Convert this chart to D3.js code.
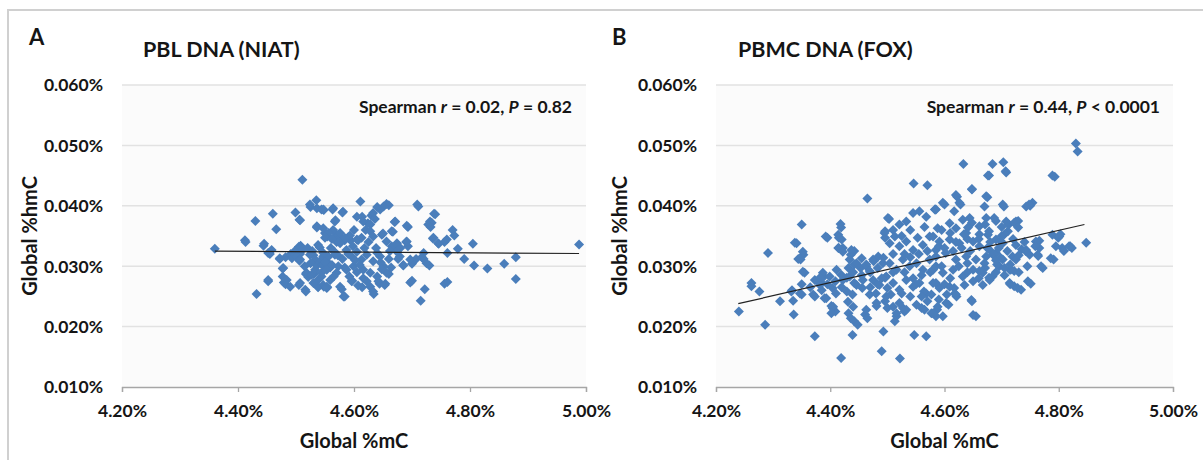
<!DOCTYPE html>
<html>
<head>
<meta charset="utf-8">
<script src="https://cdn.jsdelivr.net/npm/d3@7"></script>
<style>
  body { margin: 0; background: #fff; }
  svg { display: block; }
  text { font-family: Lato, "Open Sans", sans-serif; font-weight: 700; fill: #151515; }
</style>
</head>
<body>
<svg id="fig" width="1203" height="460"></svg>
<script>
// Axis ticks shared by both panels (values in percent)
const xTickValues = [4.2, 4.4, 4.6, 4.8, 5.0];
const xTickLabels = ["4.20%", "4.40%", "4.60%", "4.80%", "5.00%"];
const yTickValues = [0.01, 0.02, 0.03, 0.04, 0.05, 0.06];
const yTickLabels = ["0.010%", "0.020%", "0.030%", "0.040%", "0.050%", "0.060%"];

// Panel A: PBL DNA (NIAT) — [global %mC, global %hmC]
const niatPoints = [
  [4.360,0.0329],[4.511,0.0443],[4.988,0.0336],[4.432,0.0254],[4.715,0.0243],[4.879,0.0279],[4.879,0.0315],
  [4.859,0.0304],[4.830,0.0296],[4.807,0.0301],[4.805,0.0337],[4.790,0.0312],[4.779,0.0329],[4.773,0.0351],
  [4.770,0.0360],[4.761,0.0322],[4.756,0.0271],[4.761,0.0274],[4.756,0.0340],[4.740,0.0386],[4.734,0.0372],
  [4.732,0.0365],[4.736,0.0346],[4.746,0.0337],[4.711,0.0399],[4.717,0.0315],[4.720,0.0312],[4.730,0.0301],
  [4.722,0.0262],[4.697,0.0273],[4.700,0.0276],[4.700,0.0304],[4.685,0.0301],[4.690,0.0340],[4.693,0.0333],
  [4.693,0.0365],[4.707,0.0312],[4.460,0.0387],[4.430,0.0375],[4.466,0.0361],[4.412,0.0343],[4.413,0.0340],
  [4.444,0.0334],[4.455,0.0320],[4.452,0.0275],[4.477,0.0283],[4.479,0.0273],[4.482,0.0270],[4.477,0.0296],
  [4.472,0.0312],[4.482,0.0315],[4.491,0.0320],[4.499,0.0389],[4.507,0.0376],[4.505,0.0329],[4.508,0.0334],
  [4.501,0.0315],[4.506,0.0309],[4.505,0.0269],[4.517,0.0258],[4.517,0.0287],[4.521,0.0282],[4.525,0.0398],
  [4.535,0.0409],[4.536,0.0364],[4.541,0.0331],[4.530,0.0318],[4.531,0.0287],[4.538,0.0265],[4.548,0.0266],
  [4.554,0.0265],[4.548,0.0393],[4.563,0.0394],[4.568,0.0376],[4.554,0.0349],[4.551,0.0354],[4.581,0.0390],
  [4.579,0.0262],[4.584,0.0250],[4.584,0.0298],[4.594,0.0343],[4.607,0.0343],[4.611,0.0407],[4.614,0.0382],
  [4.624,0.0371],[4.620,0.0360],[4.630,0.0384],[4.640,0.0398],[4.660,0.0401],[4.634,0.0254],[4.644,0.0271],
  [4.654,0.0271],[4.607,0.0268],[4.614,0.0265],[4.597,0.0276],[4.650,0.0354],[4.670,0.0373],[4.667,0.0357],
  [4.670,0.0329],[4.676,0.0312],[4.664,0.0298],[4.660,0.0287],[4.570,0.0352],[4.577,0.0348],[4.584,0.0343],
  [4.590,0.0348],[4.593,0.0351],[4.548,0.0315],[4.554,0.0307],[4.559,0.0298],[4.524,0.0402],[4.536,0.0396],
  [4.544,0.0394],[4.506,0.0377],[4.536,0.0366],[4.550,0.0355],[4.445,0.0337],[4.505,0.0332],[4.498,0.0325],
  [4.507,0.0320],[4.512,0.0328],[4.538,0.0335],[4.458,0.0327],[4.452,0.0322],[4.472,0.0313],[4.478,0.0297],
  [4.493,0.0313],[4.501,0.0316],[4.507,0.0311],[4.524,0.0319],[4.533,0.0311],[4.541,0.0308],[4.547,0.0316],
  [4.452,0.0277],[4.484,0.0277],[4.490,0.0266],[4.507,0.0272],[4.516,0.0261],[4.518,0.0289],[4.527,0.0286],
  [4.533,0.0294],[4.538,0.0266],[4.547,0.0269],[4.553,0.0264],[4.538,0.0277],[4.544,0.0289],[4.536,0.0301],
  [4.545,0.0302],[4.553,0.0298],[4.656,0.0403],[4.651,0.0399],[4.645,0.0394],[4.709,0.0402],[4.738,0.0387],
  [4.731,0.0374],[4.728,0.0369],[4.547,0.0394],[4.564,0.0396],[4.580,0.0389],[4.605,0.0382],[4.616,0.0374],
  [4.633,0.0388],[4.636,0.0378],[4.628,0.0369],[4.567,0.0374],[4.564,0.0360],[4.671,0.0374],[4.665,0.0358],
  [4.691,0.0367],[4.547,0.0363],[4.556,0.0355],[4.550,0.0347],[4.576,0.0355],[4.584,0.0347],[4.576,0.0338],
  [4.605,0.0344],[4.613,0.0347],[4.628,0.0358],[4.633,0.0349],[4.648,0.0352],[4.656,0.0341],[4.665,0.0333],
  [4.674,0.0338],[4.691,0.0341],[4.737,0.0347],[4.745,0.0338],[4.760,0.0344],[4.720,0.0322],[4.725,0.0305],
  [4.697,0.0311],[4.685,0.0302],[4.547,0.0322],[4.556,0.0316],[4.567,0.0319],[4.550,0.0308],[4.562,0.0302],
  [4.573,0.0300],[4.553,0.0294],[4.570,0.0289],[4.544,0.0283],[4.559,0.0277],[4.587,0.0327],[4.596,0.0316],
  [4.605,0.0324],[4.613,0.0311],[4.622,0.0319],[4.633,0.0308],[4.645,0.0316],[4.651,0.0300],[4.656,0.0289],
  [4.616,0.0294],[4.628,0.0289],[4.599,0.0300],[4.587,0.0294],[4.553,0.0266],[4.576,0.0266],[4.582,0.0250],
  [4.596,0.0275],[4.616,0.0280],[4.628,0.0266],[4.633,0.0258],[4.642,0.0275],[4.653,0.0269],[4.674,0.0324],
  [4.679,0.0316],[4.520,0.0330],[4.528,0.0325],[4.560,0.0330],[4.565,0.0325],[4.572,0.0318],[4.580,0.0312],
  [4.590,0.0320],[4.598,0.0333],[4.602,0.0310],[4.610,0.0302],[4.618,0.0330],[4.625,0.0340],[4.638,0.0330],
  [4.640,0.0322],[4.646,0.0306],[4.660,0.0312],[4.662,0.0325],[4.680,0.0330],[4.570,0.0340],[4.562,0.0345],
  [4.515,0.0300],[4.525,0.0305],[4.530,0.0272],[4.565,0.0283],[4.592,0.0283],[4.605,0.0290],[4.622,0.0275],
  [4.640,0.0283],[4.648,0.0295],[4.600,0.0360]
];
const niatFitMC = [4.360, 4.988];
const niatFitHMC = [0.0325, 0.0321];

// Panel B: PBMC DNA (FOX) — [global %mC, global %hmC]
const foxPoints = [
  [4.240,0.0225],[4.262,0.0272],[4.262,0.0267],[4.276,0.0258],[4.286,0.0203],[4.291,0.0322],[4.312,0.0242],
  [4.333,0.0260],[4.335,0.0243],[4.336,0.0220],[4.341,0.0338],[4.350,0.0369],[4.348,0.0311],[4.353,0.0319],
  [4.350,0.0270],[4.350,0.0253],[4.355,0.0289],[4.373,0.0184],[4.373,0.0250],[4.378,0.0275],[4.389,0.0283],
  [4.385,0.0272],[4.395,0.0347],[4.393,0.0247],[4.404,0.0231],[4.409,0.0225],[4.402,0.0234],[4.404,0.0264],
  [4.415,0.0347],[4.419,0.0364],[4.419,0.0148],[4.415,0.0330],[4.422,0.0330],[4.432,0.0222],[4.436,0.0214],
  [4.439,0.0186],[4.442,0.0209],[4.448,0.0203],[4.429,0.0258],[4.439,0.0253],[4.432,0.0297],[4.442,0.0303],
  [4.436,0.0319],[4.442,0.0325],[4.465,0.0412],[4.461,0.0220],[4.465,0.0214],[4.481,0.0234],[4.490,0.0159],
  [4.493,0.0192],[4.496,0.0347],[4.496,0.0358],[4.503,0.0378],[4.496,0.0242],[4.500,0.0231],[4.513,0.0209],
  [4.516,0.0217],[4.522,0.0147],[4.527,0.0231],[4.530,0.0225],[4.547,0.0186],[4.546,0.0437],[4.570,0.0434],
  [4.568,0.0184],[4.560,0.0231],[4.577,0.0222],[4.587,0.0228],[4.597,0.0217],[4.607,0.0236],[4.621,0.0250],
  [4.617,0.0264],[4.633,0.0469],[4.648,0.0242],[4.655,0.0217],[4.648,0.0427],[4.622,0.0415],[4.628,0.0402],
  [4.600,0.0402],[4.584,0.0394],[4.678,0.0450],[4.684,0.0469],[4.703,0.0472],[4.708,0.0455],[4.704,0.0399],
  [4.675,0.0414],[4.830,0.0503],[4.833,0.0490],[4.793,0.0448],[4.754,0.0405],[4.750,0.0400],[4.848,0.0339],
  [4.823,0.0330],[4.820,0.0333],[4.803,0.0353],[4.799,0.0347],[4.806,0.0330],[4.809,0.0325],[4.791,0.0311],
  [4.772,0.0297],[4.751,0.0271],[4.734,0.0261],[4.715,0.0270],[4.722,0.0267],[4.722,0.0292],[4.766,0.0342],
  [4.763,0.0319],[4.729,0.0375],[4.712,0.0369],[4.418,0.0370],[4.501,0.0380],[4.392,0.0349],[4.414,0.0352],
  [4.420,0.0344],[4.338,0.0339],[4.352,0.0324],[4.344,0.0312],[4.414,0.0330],[4.422,0.0324],[4.437,0.0327],
  [4.495,0.0355],[4.504,0.0338],[4.513,0.0349],[4.521,0.0369],[4.533,0.0374],[4.545,0.0388],[4.556,0.0391],
  [4.568,0.0382],[4.585,0.0394],[4.521,0.0333],[4.533,0.0341],[4.545,0.0327],[4.553,0.0347],[4.562,0.0335],
  [4.574,0.0349],[4.585,0.0327],[4.434,0.0311],[4.446,0.0305],[4.455,0.0313],[4.463,0.0300],[4.475,0.0311],
  [4.484,0.0316],[4.492,0.0305],[4.504,0.0305],[4.516,0.0294],[4.527,0.0311],[4.539,0.0300],[4.551,0.0305],
  [4.562,0.0294],[4.574,0.0311],[4.585,0.0300],[4.352,0.0291],[4.373,0.0277],[4.387,0.0289],[4.382,0.0269],
  [4.399,0.0283],[4.411,0.0294],[4.422,0.0277],[4.434,0.0283],[4.446,0.0269],[4.457,0.0277],[4.475,0.0277],
  [4.486,0.0269],[4.498,0.0283],[4.510,0.0272],[4.521,0.0261],[4.533,0.0277],[4.545,0.0266],[4.556,0.0272],
  [4.568,0.0255],[4.580,0.0272],[4.332,0.0258],[4.347,0.0255],[4.370,0.0253],[4.390,0.0247],[4.405,0.0233],
  [4.402,0.0222],[4.431,0.0241],[4.440,0.0233],[4.463,0.0228],[4.481,0.0239],[4.498,0.0250],[4.510,0.0233],
  [4.521,0.0239],[4.516,0.0222],[4.533,0.0228],[4.551,0.0236],[4.565,0.0228],[4.580,0.0222],[4.676,0.0450],
  [4.707,0.0457],[4.789,0.0450],[4.648,0.0428],[4.620,0.0418],[4.626,0.0405],[4.597,0.0405],[4.673,0.0416],
  [4.670,0.0399],[4.702,0.0402],[4.748,0.0402],[4.743,0.0399],[4.583,0.0394],[4.617,0.0391],[4.632,0.0377],
  [4.609,0.0371],[4.588,0.0363],[4.644,0.0380],[4.673,0.0380],[4.687,0.0380],[4.708,0.0374],[4.725,0.0374],
  [4.711,0.0358],[4.620,0.0363],[4.638,0.0355],[4.661,0.0366],[4.676,0.0352],[4.690,0.0344],[4.702,0.0338],
  [4.580,0.0349],[4.591,0.0341],[4.609,0.0344],[4.626,0.0338],[4.650,0.0341],[4.661,0.0333],[4.679,0.0327],
  [4.725,0.0335],[4.743,0.0327],[4.760,0.0341],[4.766,0.0330],[4.789,0.0352],[4.801,0.0349],[4.818,0.0333],
  [4.795,0.0333],[4.786,0.0313],[4.769,0.0300],[4.585,0.0316],[4.602,0.0322],[4.620,0.0311],[4.638,0.0316],
  [4.655,0.0311],[4.673,0.0316],[4.690,0.0322],[4.702,0.0311],[4.714,0.0294],[4.719,0.0316],[4.580,0.0294],
  [4.597,0.0289],[4.615,0.0294],[4.632,0.0283],[4.650,0.0294],[4.667,0.0289],[4.684,0.0283],[4.696,0.0300],
  [4.716,0.0294],[4.585,0.0272],[4.609,0.0266],[4.620,0.0253],[4.635,0.0269],[4.650,0.0275],[4.667,0.0269],
  [4.679,0.0277],[4.714,0.0272],[4.728,0.0264],[4.746,0.0275],[4.588,0.0233],[4.603,0.0239],[4.585,0.0217],
  [4.647,0.0244],[4.650,0.0219],[4.618,0.0255],[4.675,0.0330],[4.685,0.0319],[4.692,0.0303],[4.698,0.0314],
  [4.671,0.0297],[4.678,0.0281],[4.661,0.0292],[4.705,0.0297],[4.715,0.0303],[4.725,0.0311],[4.735,0.0328],
  [4.742,0.0325],[4.749,0.0319],[4.759,0.0333],[4.764,0.0317],[4.712,0.0369],[4.722,0.0372],[4.729,0.0364],
  [4.705,0.0353],[4.698,0.0342],[4.678,0.0358],[4.671,0.0369],[4.661,0.0353],[4.648,0.0372],[4.641,0.0364],
  [4.634,0.0353],[4.382,0.0281],[4.395,0.0270],[4.409,0.0275],[4.419,0.0286],[4.429,0.0281],[4.442,0.0272],
  [4.453,0.0297],[4.463,0.0303],[4.469,0.0292],[4.476,0.0308],[4.483,0.0297],[4.493,0.0314],[4.456,0.0264],
  [4.469,0.0253],[4.483,0.0270],[4.496,0.0281],[4.500,0.0264],[4.506,0.0253],[4.550,0.0270],[4.564,0.0258],
  [4.577,0.0253],[4.591,0.0264],[4.604,0.0253],[4.570,0.0242],[4.510,0.0320],[4.530,0.0320],[4.540,0.0315],
  [4.555,0.0320],[4.570,0.0325],[4.590,0.0333],[4.600,0.0330],[4.615,0.0325],[4.630,0.0330],[4.645,0.0325],
  [4.660,0.0345],[4.680,0.0340],[4.695,0.0330],[4.710,0.0325],[4.730,0.0318],[4.610,0.0355],[4.595,0.0360],
  [4.565,0.0365],[4.540,0.0360],[4.525,0.0350],[4.510,0.0360],[4.560,0.0285],[4.575,0.0290],[4.595,0.0300],
  [4.610,0.0280],[4.625,0.0300],[4.640,0.0305],[4.660,0.0280],[4.690,0.0290],[4.705,0.0285],[4.730,0.0290],
  [4.745,0.0300],[4.690,0.0310],[4.670,0.0305],[4.640,0.0290],[4.600,0.0270],[4.590,0.0245],[4.560,0.0250],
  [4.540,0.0250],[4.525,0.0255],[4.490,0.0280],[4.470,0.0290],[4.455,0.0285],[4.440,0.0290],[4.420,0.0265],
  [4.410,0.0255],[4.385,0.0260],[4.365,0.0265],[4.470,0.0265],[4.480,0.0255],[4.510,0.0290],[4.530,0.0290],
  [4.545,0.0280],[4.620,0.0340],[4.640,0.0345],[4.700,0.0350],[4.720,0.0345],[4.740,0.0340],[4.700,0.0365],
  [4.690,0.0375]
];
const foxFitMC = [4.239, 4.845];
const foxFitHMC = [0.0238, 0.0369];

const panels = [
  { letter: "A", title: "PBL DNA (NIAT)", r: "0.02", pOp: "=", p: "0.82",
    points: niatPoints, fitX: niatFitMC, fitY: niatFitHMC,
    x0: 122, x1: 586, letterX: 29, titleX: 143, statEnd: 572, yTitleX: 30 },
  { letter: "B", title: "PBMC DNA (FOX)", r: "0.44", pOp: "<", p: "0.0001",
    points: foxPoints, fitX: foxFitMC, fitY: foxFitHMC,
    x0: 716, x1: 1173, letterX: 612, titleX: 738, statEnd: 1160, yTitleX: 620 }
];

const svg = d3.select("#fig");
const plotTop = 85, plotBottom = 387;
const blue = "#4a7ebb";

// Outer frame of the figure
svg.append("path")
  .attr("d", "M8,460 V10 H1203")
  .attr("fill", "none").attr("stroke", "#d0d0d0").attr("stroke-width", 2);

const diamond = r => `M0,${-r}L${r},0L0,${r}L${-r},0Z`;

panels.forEach(p => {
  const x = d3.scaleLinear().domain([4.2, 5.0]).range([p.x0, p.x1]);
  const y = d3.scaleLinear().domain([0.01, 0.06]).range([plotBottom, plotTop]);
  const g = svg.append("g");

  // plot area
  g.append("rect").attr("x", p.x0).attr("y", plotTop)
    .attr("width", p.x1 - p.x0).attr("height", plotBottom - plotTop).attr("fill", "#fbfbfb");

  // horizontal gridlines
  g.selectAll("line.grid").data(yTickValues.slice(1)).join("line")
    .attr("x1", p.x0).attr("x2", p.x1)
    .attr("y1", d => y(d)).attr("y2", d => y(d))
    .attr("stroke", "#e2e2e2").attr("stroke-width", 1.5);

  // y axis labels
  const yAxis = d3.axisLeft(y).tickValues(yTickValues)
    .tickFormat((d, i) => yTickLabels[i]).tickSize(0).tickPadding(19);
  const ya = g.append("g").attr("transform", `translate(${p.x0},0)`).call(yAxis);
  ya.select(".domain").remove();
  ya.selectAll("text").attr("font-size", 17.5).attr("dy", "0.34em")
    .style("font-family", "Lato, sans-serif").style("font-weight", 700).attr("fill", "#151515");

  // x axis
  const xAxis = d3.axisBottom(x).tickValues(xTickValues)
    .tickFormat((d, i) => xTickLabels[i]).tickSize(5).tickPadding(13);
  const xa = g.append("g").attr("transform", `translate(0,${plotBottom})`).call(xAxis);
  xa.select(".domain").attr("stroke", "#a6a6a6").attr("stroke-width", 1.3);
  xa.selectAll(".tick line").attr("stroke", "#a6a6a6").attr("stroke-width", 1.3);
  xa.selectAll("text").attr("font-size", 17.5)
    .style("font-family", "Lato, sans-serif").style("font-weight", 700).attr("fill", "#151515");

  // points
  g.selectAll("path.pt").data(p.points).join("path")
    .attr("class", "pt")
    .attr("transform", d => `translate(${x(d[0])},${y(d[1])})`)
    .attr("d", diamond(5))
    .attr("fill", blue);

  // linear fit
  const fit = p.fitX.map((v, i) => [v, p.fitY[i]]);
  g.append("path").datum(fit)
    .attr("d", d3.line().x(d => x(d[0])).y(d => y(d[1])))
    .attr("stroke", "#222").attr("stroke-width", 1.2).attr("fill", "none");

  // panel letter and title
  g.append("text").attr("x", p.letterX).attr("y", 45).attr("font-size", 22).text(p.letter);
  g.append("text").attr("x", p.titleX).attr("y", 57).attr("font-size", 21.5).text(p.title);

  // correlation statistic
  const st = g.append("text").attr("x", p.statEnd).attr("y", 113)
    .attr("font-size", 17.5).attr("text-anchor", "end");
  st.append("tspan").text("Spearman ");
  st.append("tspan").attr("font-style", "italic").text("r");
  st.append("tspan").text(" = " + p.r + ", ");
  st.append("tspan").attr("font-style", "italic").text("P");
  st.append("tspan").text(" " + p.pOp + " " + p.p);

  // axis titles
  g.append("text").attr("x", (p.x0 + p.x1) / 2).attr("y", 448)
    .attr("text-anchor", "middle").attr("font-size", 20).text("Global %mC");
  g.append("text")
    .attr("transform", `translate(${p.yTitleX},${(plotTop + plotBottom) / 2}) rotate(-90)`)
    .attr("text-anchor", "middle").attr("dy", "0.35em").attr("font-size", 20).text("Global %hmC");
});
</script>
</body>
</html>
